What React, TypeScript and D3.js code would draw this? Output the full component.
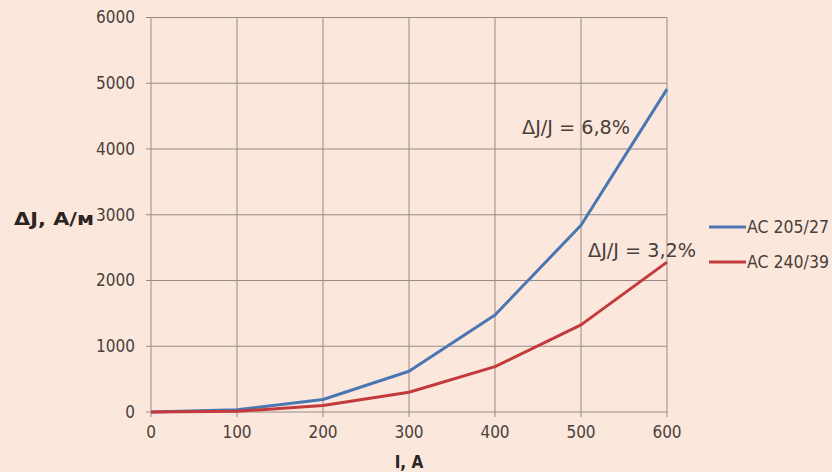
import React from "react";
import * as d3 from "d3";

const currents = [0, 100, 200, 300, 400, 500, 600];
const ac205 = [0, 35, 190, 620, 1475, 2840, 4910];
const ac240 = [0, 10, 100, 300, 690, 1325, 2280];
const xTicks = [0, 100, 200, 300, 400, 500, 600];
const yTicks = [0, 1000, 2000, 3000, 4000, 5000, 6000];
const seriesNames = ["AC 205/27", "AC 240/39"];
const notes = ["ΔJ/J = 6,8%", "ΔJ/J = 3,2%"];

const W = 832;
const H = 472;
const font = "'DejaVu Sans Condensed', 'DejaVu Sans', sans-serif";
const wideFont = "'DejaVu Sans', sans-serif";
const ink = "#4a403b";
const grid = "#968b85";

const App = () => {
  const x = d3.scaleLinear().domain([0, 600]).range([151, 667]);
  const y = d3.scaleLinear().domain([0, 6000]).range([412, 17.5]);

  const line = d3
    .line<number>()
    .x((_, i) => x(currents[i]))
    .y((d) => y(d));

  const series = [
    { name: seriesNames[0], values: ac205, color: "#4a77b2" },
    { name: seriesNames[1], values: ac240, color: "#c23a3b" },
  ];

  return (
    <svg
      width={W}
      height={H}
      style={{ position: "absolute", left: 0, top: 0, background: "#fbe7dc" }}
    >
      <rect width={W} height={H} fill="#fbe7dc" />
      {/* grid */}
      <g stroke={grid} strokeWidth={1}>
        {yTicks.map((t) => (
          <line key={"h" + t} x1={146} x2={x(600)} y1={y(t)} y2={y(t)} />
        ))}
        {xTicks.map((t) => (
          <line key={"v" + t} x1={x(t)} x2={x(t)} y1={y(6000)} y2={y(0) + 5} />
        ))}
      </g>
      {/* tick labels */}
      <g fontFamily={font} fontSize={17} fill={ink}>
        {yTicks.map((t) => (
          <text key={"yl" + t} x={135} y={y(t)} dy="0.35em" textAnchor="end">
            {t}
          </text>
        ))}
        {xTicks.map((t) => (
          <text key={"xl" + t} x={x(t)} y={438} textAnchor="middle">
            {t}
          </text>
        ))}
      </g>
      {/* axis titles */}
      <text
        x={14}
        y={219}
        dy="0.35em"
        fontFamily={wideFont}
        fontSize={17}
        fontWeight="bold"
        fill="#2b2522"
        textLength={80}
        lengthAdjust="spacingAndGlyphs"
      >
        ΔJ, А/м
      </text>
      <text
        x={409}
        y={468}
        textAnchor="middle"
        fontFamily={font}
        fontSize={17}
        fontWeight="bold"
        fill="#2b2522"
      >
        I, А
      </text>
      {/* lines */}
      {series.map((s) => (
        <path
          key={s.name}
          d={line(s.values) || ""}
          fill="none"
          stroke={s.color}
          strokeWidth={3}
          strokeLinejoin="round"
        />
      ))}
      {/* annotations */}
      <g fontFamily={font} fontSize={19} fill={ink}>
        <text x={522} y={127} dy="0.35em" textLength={108} lengthAdjust="spacingAndGlyphs">
          {notes[0]}
        </text>
        <text x={588} y={250} dy="0.35em" textLength={108} lengthAdjust="spacingAndGlyphs">
          {notes[1]}
        </text>
      </g>
      {/* legend */}
      {series.map((s, i) => (
        <g key={"lg" + s.name} transform={`translate(709, ${227 + i * 35})`}>
          <line x1={0} x2={37} y1={0} y2={0} stroke={s.color} strokeWidth={3} />
          <text
            x={38}
            y={0}
            dy="0.35em"
            fontFamily={font}
            fontSize={17.5}
            fill={ink}
            textLength={82}
            lengthAdjust="spacingAndGlyphs"
          >
            {s.name}
          </text>
        </g>
      ))}
    </svg>
  );
};

export default App;
